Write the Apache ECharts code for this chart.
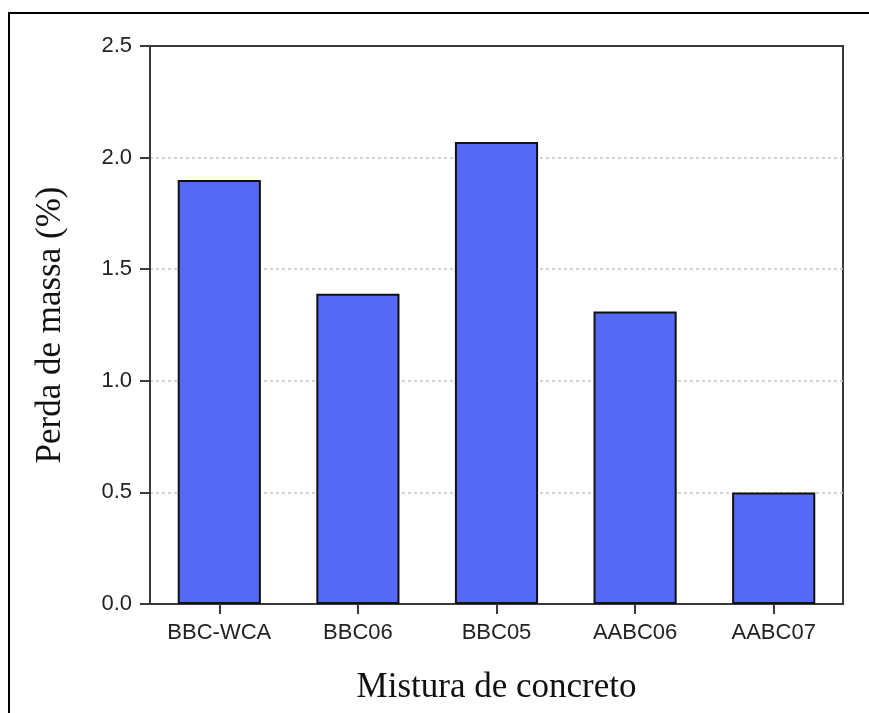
<!DOCTYPE html>
<html>
<head>
<meta charset="utf-8">
<title>Perda de massa</title>
<script src="https://cdn.jsdelivr.net/npm/echarts@6/dist/echarts.min.js"></script>
<style>
  html, body { margin: 0; padding: 0; background: #fff; }
  #chart { width: 869px; height: 713px; }
</style>
</head>
<body>
<div id="chart"></div>
<script>
// Concrete mixes and their mass loss (%)
const categories = ['BBC-WCA', 'BBC06', 'BBC05', 'AABC06', 'AABC07'];
const massLoss = [1.90, 1.39, 2.07, 1.31, 0.50];
const yTicks = { min: 0, max: 2.5, interval: 0.5 };

const chart = echarts.init(document.getElementById('chart'), null, { renderer: 'canvas' });

const sansFont = '"Liberation Sans", Arial, sans-serif';
const serifFont = '"Liberation Serif", "Times New Roman", serif';

chart.setOption({
  backgroundColor: '#ffffff',
  animation: false,
  grid: {
    left: 150, right: 26, top: 46, bottom: 109,
    show: true,
    borderColor: '#3a3a3a',
    borderWidth: 2,
    backgroundColor: 'transparent'
  },
  xAxis: {
    type: 'category',
    data: categories,
    name: 'Mistura de concreto',
    nameLocation: 'middle',
    nameGap: 66,
    nameTextStyle: { fontFamily: serifFont, fontSize: 35, color: '#111' },
    axisLine: { lineStyle: { color: '#3a3a3a', width: 2 } },
    axisTick: { show: true, alignWithLabel: true, length: 10, lineStyle: { color: '#3a3a3a', width: 2 } },
    axisLabel: { fontFamily: sansFont, fontSize: 22, color: '#222', margin: 18 },
    splitLine: { show: false }
  },
  yAxis: {
    type: 'value',
    min: yTicks.min,
    max: yTicks.max,
    interval: yTicks.interval,
    name: 'Perda de massa (%)',
    nameLocation: 'middle',
    nameGap: 82,
    nameRotate: 90,
    nameTextStyle: { fontFamily: serifFont, fontSize: 35, color: '#111' },
    axisLine: { show: true, lineStyle: { color: '#3a3a3a', width: 2 } },
    axisTick: { show: true, length: 10, lineStyle: { color: '#3a3a3a', width: 2 } },
    axisLabel: {
      fontFamily: sansFont, fontSize: 22, color: '#222', margin: 18,
      formatter: v => v.toFixed(1)
    },
    splitLine: {
      show: true, showMinLine: false, showMaxLine: false,
      lineStyle: { color: '#c4c4c4', width: 1.5, type: [3, 3] }
    }
  },
  series: [{
    type: 'bar',
    data: massLoss,
    barCategoryGap: '40%',
    itemStyle: { color: '#5668f6', borderColor: '#111', borderWidth: 2 }
  }],
  graphic: [{
    type: 'rect',
    shape: { x: 9, y: 13, width: 1000, height: 1000 },
    style: { fill: 'none', stroke: '#000', lineWidth: 2 },
    silent: true,
    z: 100
  }]
});
</script>
</body>
</html>
